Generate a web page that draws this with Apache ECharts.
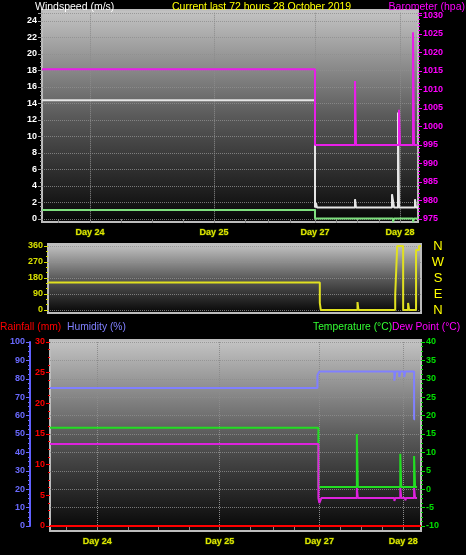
<!DOCTYPE html>
<html><head><meta charset="utf-8">
<script src="https://cdn.jsdelivr.net/npm/echarts@6/dist/echarts.min.js"></script>
<style>html,body{margin:0;padding:0;background:#000;}#c{width:466px;height:555px;}</style>
</head><body><div id="c"></div>
<script>
// ---- data (x = sample index along the 72h record, 0..376) ----
const DAY_LABELS = ['Day 24','Day 25','Day 27','Day 28'];
const DAY_POS = [48, 172, 273, 358];
const TICK_POS = [16,48,79,110,141,172,203,226,248,273,294,315,337,358];
const windSpeed = [[0,14.4],[273,1.4],[274,1.9],[275,1.4],[313,2.4],[314,1.4],[350,3.0],[352,1.4],[356,12.9],[357,1.4],[373,2.4],[374,1.4],[376,1.4]];
const windAvg = [[0,1.1],[273,0.05],[313,0.25],[314,0.05],[351,-0.4],[352,0.05],[371,-0.4],[372,0.05],[376,0.05]];
const barometer = [[0,1015.5],[273,995],[313,1012.3],[314,995],[357,1004.5],[358,995],[371,1025.5],[372,995],[376,995]];
const windDir = [[0,155],[274,40],[275,0],[312,45],[313,0],[350,85],[352,360],[358,0],[363,40],[364,0],[371,337],[374,360],[376,360]];
const humidity = [[0,75],[271,82],[273,84],[349,79],[350,84],[354,81],[355,84],[359,81],[360,84],[369,58],[370,58]];
const temperature = [[0,16.7],[272,0.6],[311,15],[312,0.6],[355,9.6],[356,0.6],[369,9.0],[370,0.6],[372,0.6]];
const dewPoint = [[0,12.3],[272,-2.4],[273,-3.8],[275,-2.4],[311,0.3],[312,-2.4],[349,-3.2],[350,-2.4],[355,0.3],[356,-2.4],[360,-3.0],[361,-2.4],[369,0.3],[370,-2.4],[372,-2.4]];
const rainfall = [[0,0],[376,0]];
const DIR_LABELS = {0:'N',90:'E',180:'S',270:'W',360:'N'};

const cats = Array.from({length:377},(_,i)=>String(i));
const FONT = 'Liberation Sans';

// layout
const P = [ {x:42,y:10,w:376,h:212}, {x:48,y:244,w:373,h:69}, {x:50,y:340,w:371,h:191} ];
const G = [ {left:42, width:376, top:12.75, height:206.25},
            {left:48, width:373, top:246, height:64},
            {left:50, width:371, top:342, height:184} ];

const chart = echarts.init(document.getElementById('c'), null, {renderer:'canvas'});

function bgRect(p){
  return {type:'rect', z:-10, shape:{x:p.x,y:p.y,width:p.w,height:p.h},
    style:{fill:new echarts.graphic.LinearGradient(0,0,0,1,[{offset:0,color:'#c4c4c4'},{offset:0.5,color:'#5a5a5a'},{offset:1,color:'#060606'}])}};
}
function frame(p){
  return {type:'rect', z:-5, shape:{x:p.x,y:p.y,width:p.w,height:p.h},
    style:{fill:'none', stroke:'#bdbdbd', lineWidth:2}};
}
function txt(x,y,t,c,size,align){
  return {type:'text', z:10, x:x, y:y, style:{text:t, fill:c, font:size+'px "'+FONT+'"', textAlign:align||'left', textVerticalAlign:'middle'}};
}

function xAxis(gi, offset, showLabels, showSplit){
  return {type:'category', gridIndex:gi, data:cats, boundaryGap:false, offset:offset,
    axisLine:{show:false},
    axisTick:{show:showLabels, interval:(i)=>TICK_POS.includes(i), length:4, lineStyle:{color:'#8a8a8a'}},
    axisLabel:{show:showLabels, interval:(i)=>DAY_POS.includes(i), formatter:(v,i)=>{const k=DAY_POS.indexOf(Number(v));return k>=0?DAY_LABELS[k]:'';},
      color:'#e4e400', fontFamily:FONT, fontSize:9, fontWeight:'bold', margin:6, textBorderColor:'rgba(70,110,0,0.7)', textBorderWidth:1},
    splitLine:{show:showSplit, interval:(i)=>DAY_POS.includes(i), lineStyle:{type:'dotted', color:'#8c8c8c'}}
  };
}
function yAxis(o){
  return Object.assign({type:'value', axisLine:{show:false},
    axisLabel:{color:o.color, fontFamily:FONT, fontSize:9, fontWeight:'bold', margin:o.margin||5, formatter:(v)=>String(Math.round(v))},
    axisTick:{show:true, length:4, lineStyle:{color:o.tickColor||o.color}},
    minorTick:{show:true, splitNumber:o.minor||4, length:2, lineStyle:{color:o.tickColor||o.color}},
    splitLine:{show:!!o.split, lineStyle:{type:'dotted', color:'#8f8f8f', opacity:0.8}}}, o.extra);
}
function line(name, data, xi, yi, color, opts){
  return Object.assign({name:name, type:'line', data:data, xAxisIndex:xi, yAxisIndex:yi, step:'end', showSymbol:false,
    symbol:'none', lineStyle:{color:color, width:2}, itemStyle:{color:color}, animation:false, z:3}, opts||{});
}

const baroMax = 975 + 25*8.25/3.7;

chart.setOption({
  backgroundColor:'#000',
  animation:false,
  grid: G.map(g=>Object.assign({containLabel:false, show:false}, g)),
  graphic: [
    bgRect(P[0]), bgRect(P[1]), bgRect(P[2]), frame(P[0]), frame(P[1]), frame(P[2]),
    txt(35,7,'Windspeed (m/s)','#ffffff',10.5),
    txt(172,7,'Current last 72 hours 28 October 2019','#ffff00',10.5),
    txt(465,7,'Barometer (hpa)','#ff00ff',10.5,'right'),
    txt(0,327,'Rainfall (mm)','#ff0000',10.3),
    txt(67,327,'Humidity (%)','#8080ff',10.3),
    txt(313,327,'Temperature (°C)','#33ff33',10.3),
    txt(392,327,'Dew Point (°C)','#ff00ff',10.3)
  ],
  xAxis: [ xAxis(0,3,true,true), xAxis(1,0,false,false), xAxis(2,5,true,true) ],
  yAxis: [
    yAxis({color:'#ffffff', tickColor:'#a0a0a0', split:true, extra:{gridIndex:0, position:'left', min:0, max:25, interval:2}}),
    yAxis({color:'#ff00ff', minor:5, extra:{gridIndex:0, position:'right', min:975, max:baroMax, interval:5}}),
    yAxis({color:'#d8e000', split:true, minor:3, extra:{gridIndex:1, position:'left', min:0, max:360, interval:90}}),
    {type:'value', gridIndex:1, position:'right', min:0, max:360, interval:90, axisLine:{show:false}, axisTick:{show:false}, splitLine:{show:false},
      axisLabel:{color:'#ffff00', fontFamily:FONT, fontSize:13, margin:17, align:'center', formatter:(v)=>DIR_LABELS[v]||''}},
    yAxis({color:'#6a6aff', split:true, extra:{gridIndex:2, position:'left', offset:20, min:0, max:100, interval:10,
      axisLine:{show:true, lineStyle:{color:'#6060ff', width:2}}}}),
    yAxis({color:'#ff0000', extra:{gridIndex:2, position:'left', min:0, max:30, interval:5}}),
    yAxis({color:'#00e000', extra:{gridIndex:2, position:'right', min:-10, max:40, interval:5}})
  ],
  series: [
    line('Windspeed', windSpeed, 0, 0, '#e6e6e6'),
    line('Wind average', windAvg, 0, 0, '#7fe07f', {clip:false}),
    line('Barometer', barometer, 0, 1, '#e81ee8'),
    line('Wind direction', windDir, 1, 2, '#e0e020'),
    line('Rainfall', rainfall, 2, 5, '#ff0000'),
    line('Humidity', humidity, 2, 4, '#8080ff'),
    line('Temperature', temperature, 2, 6, '#22dd22'),
    line('Dew Point', dewPoint, 2, 6, '#dd22dd', {clip:false})
  ]
});
</script></body></html>
